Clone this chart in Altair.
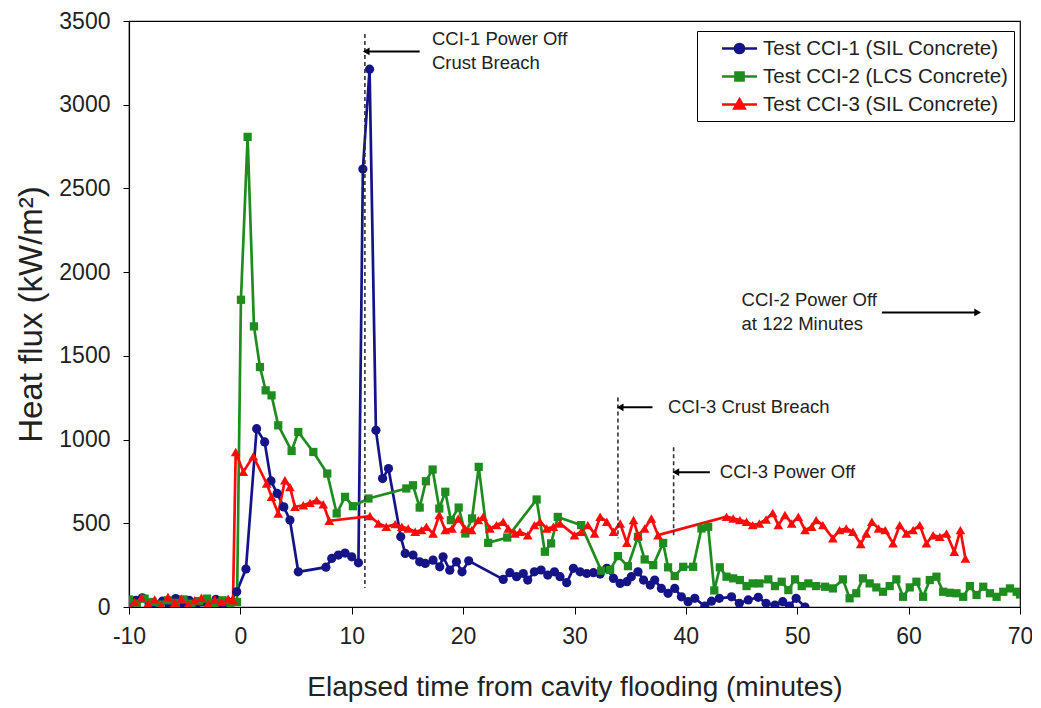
import altair as alt
import pandas as pd

SERIES = ["Test CCI-1 (SIL Concrete)", "Test CCI-2 (LCS Concrete)", "Test CCI-3 (SIL Concrete)"]
COLORS = ["#141487", "#1e8c1e", "#ff0a0a"]

cci1_t = [-10.0, -9.4, -8.8, -8.2, -7.6, -7.0, -6.4, -5.8, -5.2, -4.6, -4.0, -3.4, -2.8, -2.2, -1.6, -1.0,
          -0.33, 0.5, 1.46, 2.18, 2.75, 3.3, 3.9, 4.45, 5.2, 7.68, 8.2, 8.8, 9.4, 10.0, 10.6, 11.0, 11.6,
          12.17, 12.77, 13.3, 14.4, 14.8, 15.5, 16.1, 16.6, 17.3, 17.9, 18.2, 18.8, 19.4, 19.9, 20.5,
          23.6, 24.2, 24.8, 25.4, 25.8, 26.4, 27.0, 27.6, 28.2, 28.7, 29.3, 29.9, 30.5, 31.1, 31.7, 32.3,
          32.9, 33.5, 34.1, 34.7, 35.1, 35.7, 36.2, 36.8, 37.2, 37.8, 38.4, 39.0, 39.6, 40.2, 40.8, 41.7,
          42.3, 43.0, 44.1, 44.8, 45.6, 46.5, 47.2, 48.0, 48.7, 49.3, 49.9, 50.7]
cci1_v = [10, 40, 55, 20, 5, 35, 10, 50, 15, 40, 5, 30, 20, 45, 10, 25,
          91, 227, 1065, 986, 753, 678, 598, 519, 210, 238, 290, 310, 322, 300, 264, 2616, 3212,
          1055, 767, 827, 419, 320, 310, 270, 260, 280, 240, 300, 220, 270, 210, 276,
          165, 205, 181, 200, 161, 210, 221, 191, 210, 181, 145, 231, 210, 200, 205, 197,
          231, 171, 141, 151, 181, 210, 161, 131, 161, 111, 82, 111, 61, 32, 52, 5,
          35, 52, 61, 22, 42, 58, 22, 12, 32, 6, 52, 0]

cci2_t = [-10.0, -9.3, -8.6, -7.9, -7.2, -6.5, -5.8, -5.1, -4.4, -3.7, -3.0, -2.3, -1.6, -0.9, -0.3,
          0.05, 0.65, 1.22, 1.76, 2.27, 2.8, 3.4, 4.6, 5.2, 6.55, 7.8, 8.65, 9.4, 10.1, 11.5,
          14.9, 15.5, 16.1, 16.66, 17.26, 17.86, 18.4, 18.9, 19.6, 20.2, 20.8, 21.4, 22.25, 23.96,
          26.6, 27.34, 27.9, 28.5, 30.6, 32.4, 33.2, 33.9, 34.8, 35.7, 36.3, 37.07, 37.96, 38.4,
          39.0, 39.76, 40.65, 41.4, 42.0, 42.55, 43.05, 43.65, 44.25, 44.85, 45.45, 46.0, 46.6,
          47.4, 48.0, 48.6, 49.2, 49.8, 50.4, 51.0, 51.7, 52.5, 53.2, 54.1, 54.7, 55.3, 55.9, 56.5,
          57.1, 57.7, 58.3, 58.9, 59.5, 60.1, 60.7, 61.3, 61.9, 62.5, 63.1, 63.7, 64.3, 64.9, 65.5,
          66.1, 66.7, 67.3, 67.9, 68.5, 69.1, 69.7, 70.0]
cci2_v = [45, 20, 50, 30, 15, 40, 25, 45, 20, 35, 50, 25, 40, 15, 30,
          1835, 2808, 1676, 1433, 1294, 1264, 1085, 932, 1045, 926, 797, 559, 658, 602, 648,
          708, 727, 594, 751, 821, 588, 688, 519, 594, 439, 529, 837, 383, 415,
          642, 330, 380, 538, 489, 217, 221, 304, 244, 419, 284, 250, 383, 237,
          185, 240, 240, 469, 479, 99, 237, 181, 171, 161, 125, 141, 141,
          165, 125, 151, 101, 165, 125, 141, 125, 121, 111, 165, 52, 82, 171, 141,
          117, 91, 125, 165, 61, 117, 151, 61, 161, 181, 91, 85, 82, 61, 125,
          72, 121, 82, 61, 91, 111, 91, 75]

cci3_t = [-10.0, -9.5, -8.9, -8.3, -7.7, -7.1, -6.5, -5.9, -5.3, -4.7, -4.1, -3.5, -2.9, -2.3, -1.7, -1.1, -0.66,
          -0.42, 0.26, 1.16, 2.36, 2.8, 3.4, 4.0, 4.45, 4.9, 5.65, 6.25, 6.85, 7.44, 7.98, 11.63,
          12.4, 13.1, 13.9, 14.5, 15.07, 15.7, 16.27, 16.7, 17.3, 17.86, 18.4, 19.0, 19.56, 20.16,
          20.76, 21.36, 21.8, 22.4, 23.0, 23.6, 24.05, 24.65, 25.1, 25.8, 26.4, 26.9, 27.5, 28.1,
          28.7, 30.0, 30.6, 31.2, 31.8, 32.3, 32.9, 33.5, 34.1, 34.7, 35.3, 35.7, 36.3, 36.9, 37.5,
          43.65, 44.25, 44.85, 45.45, 46.0, 46.6, 47.2, 47.8, 48.3, 48.9, 49.5, 50.1, 50.7, 51.3,
          51.7, 52.3, 53.2, 53.8, 54.4, 55.0, 55.7, 56.2, 56.7, 57.3, 57.9, 58.6, 59.2, 59.8, 60.4,
          61.0, 61.6, 62.2, 62.8, 63.4, 64.1, 64.65, 65.1]
cci3_v = [5, 30, 55, 20, 45, 10, 60, 25, 50, 15, 40, 55, 20, 45, 30, 50, 40,
          926, 807, 900, 738, 658, 559, 757, 717, 598, 608, 622, 638, 614, 515, 543,
          499, 479, 495, 479, 469, 449, 459, 479, 439, 549, 459, 469, 529, 469,
          459, 519, 539, 469, 489, 509, 469, 439, 449, 429, 489, 509, 469, 479,
          499, 429, 449, 489, 439, 539, 509, 449, 499, 383, 519, 429, 469, 529, 429,
          539, 529, 519, 509, 489, 499, 523, 562, 489, 549, 499, 539, 459, 479,
          519, 489, 410, 459, 469, 449, 376, 439, 509, 469, 459, 380, 489, 439, 459,
          489, 380, 429, 419, 439, 330, 459, 290]

# annotation content
vline_t = [11.18, 33.9, 38.9]
vline_top = [3423, 1252, 954]
vline_bot = [113, 411, 411]

arrow_from = [16.1, 37.0, 42.15, 57.6]
arrow_to = [11.3, 34.1, 39.1, 66.2]
arrow_v = [3318, 1193, 805, 1759]
arrow_dir = ["left", "left", "left", "right"]

note_text = ["CCI-1 Power Off", "Crust Breach", "CCI-3 Crust Breach", "CCI-3 Power Off",
             "CCI-2 Power Off", "at 122 Minutes"]
note_t = [17.2, 17.2, 38.4, 43.05, 45.0, 45.0]
note_v = [3392, 3250, 1193, 805, 1831, 1693]

FONT = "Liberation Sans"

rows = []
for name, ts, vs in zip(SERIES, [cci1_t, cci2_t, cci3_t], [cci1_v, cci2_v, cci3_v]):
    assert len(ts) == len(vs), name
    for i, (t, v) in enumerate(zip(ts, vs)):
        rows.append({"series": name, "t": t, "v": v, "i": i})
df = pd.DataFrame(rows)

xs = alt.Scale(domain=[-10, 70], nice=False, zero=False)
ys = alt.Scale(domain=[0, 3500], nice=False)

X = alt.X("t:Q", scale=xs,
          axis=alt.Axis(title="Elapsed time from cavity flooding (minutes)",
                        values=list(range(-10, 71, 10)), labelFlush=False,
                        labelExpr="'' + datum.value",
                        tickSize=7, labelPadding=11, titlePadding=25))
Y = alt.Y("v:Q", scale=ys,
          axis=alt.Axis(title="Heat flux (kW/m²)", values=list(range(0, 3501, 500)),
                        labelExpr="'' + datum.value",
                        tickSize=6, labelPadding=13, titlePadding=10, titleFontSize=33))

base = alt.Chart(df)
shapes = ["circle", "square", "triangle-up"]
sizes = [85, 68, 95]
line_layers = []
point_layers = []
for k, (name, col, shp, sz) in enumerate(zip(SERIES, COLORS, shapes, sizes)):
    sub = base.transform_filter(alt.datum.series == name)
    line_layers.append(sub.mark_line(color=col, strokeWidth=2.7, clip=True).encode(
        x=X if k == 0 else "t:Q", y=Y if k == 0 else "v:Q", order="i:Q"))
    point_layers.append(sub.mark_point(shape=shp, filled=True, color=col, size=sz,
                                       opacity=1, clip=True).encode(x="t:Q", y="v:Q"))

# legend layer (no drawn points; null positions are filtered out)
leg_df = pd.DataFrame({"series": SERIES, "t": [None] * 3, "v": [None] * 3})
leg_paths = [
    "M-1.75,0H1.75M0.45,0A0.45,0.45,0,1,1,-0.45,0A0.45,0.45,0,1,1,0.45,0Z",
    "M-1.75,0H1.75M-0.4,-0.4H0.4V0.4H-0.4Z",
    "M-1.75,0H1.75M0,-0.5L0.5,0.38H-0.5Z",
]
leg_props = dict(title=None, orient="none", legendX=568, legendY=10, padding=6,
                 strokeColor="black", fillColor="white", labelFont=FONT, labelFontSize=20.5,
                 labelColor="#222222", symbolSize=400, symbolStrokeWidth=2.7, symbolOpacity=1,
                 symbolOffset=25, labelOffset=12, rowPadding=6, labelLimit=400)
legend_layer = alt.Chart(leg_df).mark_point(filled=True, opacity=1).encode(
    x="t:Q", y="v:Q",
    color=alt.Color("series:N", scale=alt.Scale(domain=SERIES, range=COLORS), legend=alt.Legend(**leg_props)),
    stroke=alt.Stroke("series:N", scale=alt.Scale(domain=SERIES, range=COLORS), legend=alt.Legend(**leg_props)),
    shape=alt.Shape("series:N", scale=alt.Scale(domain=SERIES, range=leg_paths), legend=alt.Legend(**leg_props)),
)

vl_df = pd.DataFrame({"t": vline_t, "top": vline_top, "bot": vline_bot})
vlines = alt.Chart(vl_df).mark_rule(color="#333333", strokeWidth=1.6, strokeDash=[4, 3]).encode(
    x="t:Q", y="top:Q", y2="bot:Q")

ar_df = pd.DataFrame({"a": arrow_from, "b": arrow_to, "v": arrow_v, "dir": arrow_dir})
arrows = alt.Chart(ar_df).mark_rule(color="black", strokeWidth=2).encode(
    x="a:Q", x2="b:Q", y="v:Q")
heads_l = alt.Chart(ar_df).transform_filter(alt.datum.dir == "left").mark_point(
    shape="triangle-left", filled=True, color="black", size=60, opacity=1).encode(x="b:Q", y="v:Q")
heads_r = alt.Chart(ar_df).transform_filter(alt.datum.dir == "right").mark_point(
    shape="triangle-right", filled=True, color="black", size=60, opacity=1).encode(x="b:Q", y="v:Q")

nt_df = pd.DataFrame({"text": note_text, "t": note_t, "v": note_v})
notes = alt.Chart(nt_df).mark_text(align="left", baseline="middle", font=FONT, fontSize=18.5,
                                   color="#222222").encode(x="t:Q", y="v:Q", text="text:N")

chart = alt.layer(*line_layers, *point_layers, legend_layer, vlines, arrows, heads_l, heads_r,
                  notes).properties(
    width=891, height=586, autosize=alt.AutoSizeParams(type="none"),
    padding={"left": 121, "top": 13, "right": 12, "bottom": 95},
).configure_view(stroke="black", strokeWidth=1.2).configure_axis(
    grid=False, domainColor="black", tickColor="black", domainWidth=1.2,
    labelFont=FONT, labelFontSize=23, labelColor="#222222",
    titleFont=FONT, titleFontSize=28, titleFontWeight="normal", titleColor="#222222",
)

chart.save("out.html", embed_options={"renderer": "svg", "actions": False})
